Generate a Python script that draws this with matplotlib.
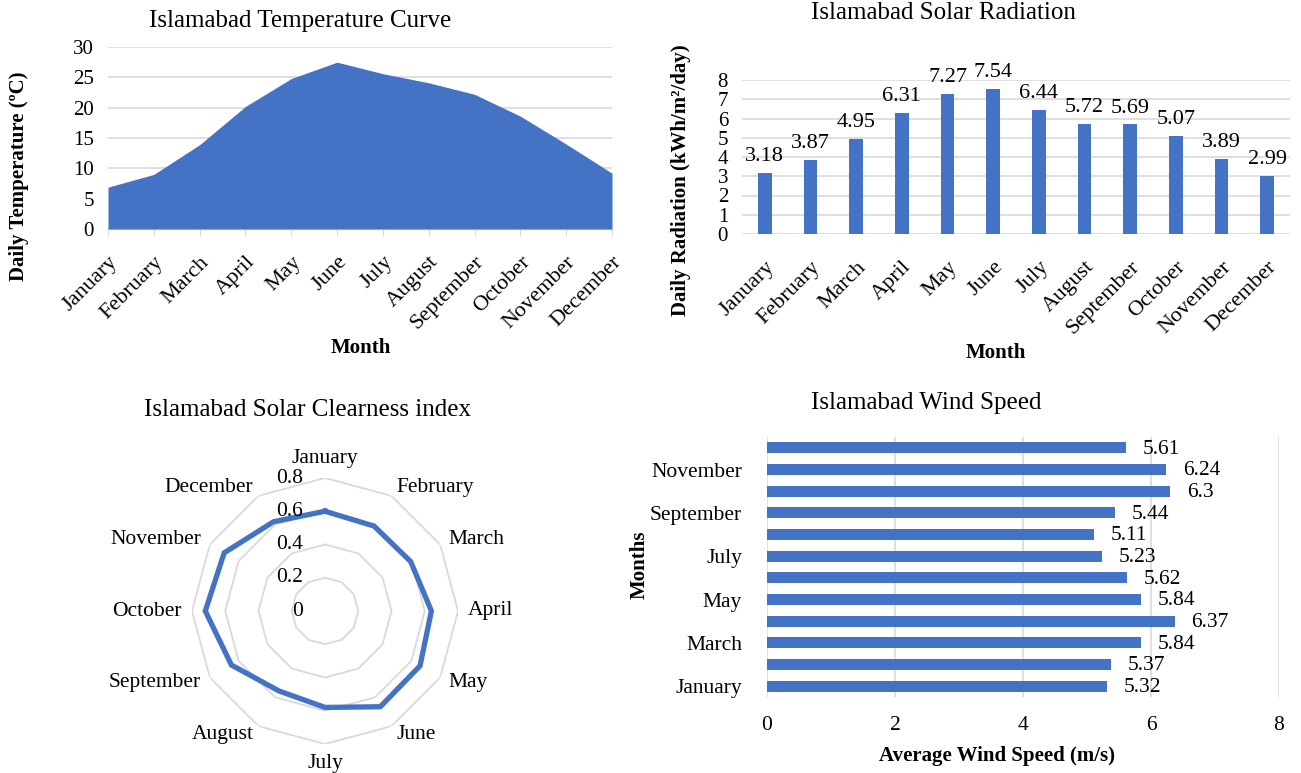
import numpy as np
import matplotlib
matplotlib.use('Agg')
import matplotlib.pyplot as plt

plt.rcParams['font.family'] = ['Liberation Serif', 'DejaVu Serif']

months = ['January', 'February', 'March', 'April', 'May', 'June', 'July',
          'August', 'September', 'October', 'November', 'December']
temperature = [6.9, 9.0, 13.9, 20.2, 24.8, 27.5, 25.6, 24.1, 22.2, 18.6, 14.0, 9.2]
radiation = [3.18, 3.87, 4.95, 6.31, 7.27, 7.54, 6.44, 5.72, 5.69, 5.07, 3.89, 2.99]
clearness = [0.60, 0.59, 0.595, 0.64, 0.66, 0.665, 0.58, 0.555, 0.65, 0.72, 0.70, 0.62]
wind = [5.32, 5.37, 5.84, 6.37, 5.84, 5.62, 5.23, 5.11, 5.44, 6.3, 6.24, 5.61]

BLUE = '#4472C4'
GRID = '#d9d9d9'
W, H = 1301, 773

fig = plt.figure(figsize=(W / 100, H / 100), dpi=100)


def rect(l, t, r, b):
    # pixel box -> figure fraction
    return [l / W, 1 - b / H, (r - l) / W, (b - t) / H]


def ftext(x, y, s, **kw):
    fig.text(x / W, 1 - y / H, s, ha=kw.pop('ha', 'center'), va=kw.pop('va', 'center'), **kw)


def clean(ax):
    for s in ax.spines.values():
        s.set_visible(False)


# --- temperature area chart ---
ax1 = fig.add_axes(rect(108, 47, 612, 229))
x = np.arange(len(months))
ax1.fill_between(x, temperature, 0, color=BLUE, lw=0, zorder=3)
ax1.set_xlim(0, 11)
ax1.set_ylim(0, 30)
ax1.set_yticks(range(0, 31, 5))
ax1.set_xticks(x)
ax1.set_xticklabels(months, rotation=45, ha='right', va='top', rotation_mode='anchor')
clean(ax1)
ax1.spines['bottom'].set_visible(True)
ax1.spines['bottom'].set_color(GRID)
ax1.grid(axis='y', color=GRID, lw=1.2, zorder=0)
ax1.tick_params(axis='y', length=0, pad=10, labelsize=15)
ax1.tick_params(axis='x', length=5, color=GRID, pad=12, labelsize=16)
ftext(300, 21, 'Islamabad Temperature Curve', fontsize=18)
ftext(19, 176, 'Daily Temperature (ºC)', rotation=90, fontsize=15, fontweight='bold')
ftext(361, 348, 'Month', fontsize=15, fontweight='bold')

# --- solar radiation bar chart ---
ax2 = fig.add_axes(rect(742, 80, 1290, 234))
ax2.bar(x, radiation, width=0.3, color=BLUE, zorder=3)
for i, v in enumerate(radiation):
    ax2.annotate(f'{v:g}', (i, v), xytext=(0, 5), textcoords='offset points',
                 ha='center', va='bottom', fontsize=16)
ax2.set_xlim(-0.5, 11.5)
ax2.set_ylim(0, 8)
ax2.set_yticks(range(0, 9))
ax2.set_xticks(x)
ax2.set_xticklabels(months, rotation=45, ha='right', va='top', rotation_mode='anchor')
clean(ax2)
ax2.grid(axis='y', color=GRID, lw=1.2, zorder=0)
ax2.tick_params(axis='y', length=0, pad=10, labelsize=15)
ax2.tick_params(axis='x', length=0, pad=17, labelsize=16)
ftext(943, 13, 'Islamabad Solar Radiation', fontsize=18)
ftext(681, 180, 'Daily Radiation (kWh/m²/day)', rotation=90, fontsize=15, fontweight='bold')
ftext(996, 353, 'Month', fontsize=15, fontweight='bold')

# --- clearness index radar ---
ax3 = fig.add_axes(rect(192, 478, 458, 744), projection='polar')
ax3.set_theta_zero_location('N')
ax3.set_theta_direction(-1)
ang = np.linspace(0, 2 * np.pi, len(months), endpoint=False)
ang_c = np.append(ang, ang[0])
for r in [0.2, 0.4, 0.6, 0.8]:
    ax3.plot(ang_c, [r] * len(ang_c), color=GRID, lw=1.3, zorder=1)
ax3.plot(ang_c, clearness + clearness[:1], color=BLUE, lw=3.8, zorder=3,
         solid_joinstyle='miter')
ax3.set_ylim(0, 0.8)
ax3.grid(False)
ax3.spines['polar'].set_visible(False)
ax3.set_xticks([])
ax3.set_yticks([])
for r in [0, 0.2, 0.4, 0.6, 0.8]:
    ax3.annotate(f'{r:g}', (0, r), xytext=(-16, 0), textcoords='offset points',
                 ha='right', va='center', fontsize=15.5)
for a, m in zip(ang, months):
    s, c = np.sin(a), np.cos(a)
    ha = 'center' if abs(s) < 0.1 else ('left' if s > 0 else 'right')
    va = 'center'
    if abs(s) < 0.1:
        va = 'bottom' if c > 0 else 'top'
    ax3.text(a, 0.86, m, ha=ha, va=va, fontsize=15.5)
ftext(308, 410, 'Islamabad Solar Clearness index', fontsize=18)

# --- wind speed horizontal bars ---
ax4 = fig.add_axes(rect(767, 437, 1279, 697))
ax4.barh(x, wind, height=0.5, color=BLUE, zorder=3)
for i, v in enumerate(wind):
    ax4.annotate(f'{v:g}', (v, i), xytext=(12, -1), textcoords='offset points',
                 ha='left', va='center', fontsize=15.5)
ax4.set_xlim(0, 8)
ax4.set_ylim(-0.5, 11.5)
ax4.set_xticks(range(0, 9, 2))
ax4.set_yticks(x[::2])
ax4.set_yticklabels(months[::2])
clean(ax4)
ax4.grid(axis='x', color=GRID, lw=1.2, zorder=0)
ax4.tick_params(axis='x', length=0, pad=14, labelsize=15.5)
ax4.tick_params(axis='y', length=0, pad=18, labelsize=15.5)
ftext(926, 403, 'Islamabad Wind Speed', fontsize=18)
ftext(640, 565, 'Months', rotation=90, fontsize=15, fontweight='bold')
ftext(997, 756, 'Average Wind Speed (m/s)', fontsize=15, fontweight='bold')

fig.savefig('out.png', dpi=100)
